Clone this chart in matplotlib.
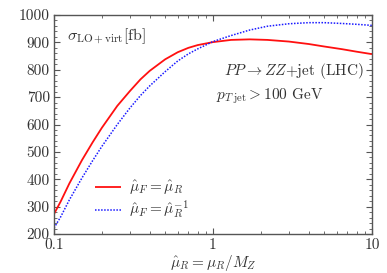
import matplotlib
matplotlib.use("Agg")
import matplotlib.pyplot as plt
from matplotlib.ticker import FixedLocator, MultipleLocator, LogLocator, NullFormatter

plt.rcParams['mathtext.fontset'] = 'cm'
plt.rcParams['font.family'] = 'serif'
plt.rcParams['font.serif'] = ['cmr10', 'DejaVu Serif']
plt.rcParams['axes.formatter.use_mathtext'] = True

# data
mu_R = [0.1, 0.11, 0.125, 0.15, 0.175, 0.2, 0.25, 0.3, 0.35, 0.4, 0.5, 0.6,
        0.7, 0.8, 1.0, 1.3, 1.7, 2.2, 3.0, 4.0, 5.0, 6.5, 8.0, 10.0]
sigma_equal = [273, 318, 385, 470, 535, 588, 668, 722, 765, 796, 838, 864,
               880, 890, 901, 909, 911, 909, 903, 894, 885, 875, 866, 857]
sigma_inverse = [222, 262, 325, 405, 468, 520, 600, 660, 706, 741, 793, 832,
                 858, 876, 903, 925, 945, 959, 968, 972, 972, 969, 966, 962]
yticks = [200, 300, 400, 500, 600, 700, 800, 900, 1000]
xticks = [0.1, 1, 10]
xticklabels = ['0.1', '1', '10']

text_col = '#333333'
frame_col = '#555555'

fig = plt.figure(figsize=(3.87, 2.73), dpi=100)
ax = fig.add_axes([54/387, 39/273, (372-54)/387, (234-15)/273])

ax.plot(mu_R, sigma_equal, color='#ff1010', lw=1.3, solid_capstyle='butt',
        label=r'$\hat{\mu}_F=\hat{\mu}_R$')
ax.plot(mu_R, sigma_inverse, color='#1a1aff', lw=1.1, ls=(0, (1, 1)),
        label=r'$\hat{\mu}_F=\hat{\mu}_R^{-1}$')

ax.set_xscale('log')
ax.set_xlim(0.1, 10)
ax.set_ylim(200, 1000)
ax.xaxis.set_major_locator(FixedLocator(xticks))
ax.set_xticklabels(xticklabels)
ax.xaxis.set_minor_locator(LogLocator(base=10, subs=range(2, 10)))
ax.xaxis.set_minor_formatter(NullFormatter())
ax.yaxis.set_major_locator(FixedLocator(yticks))
ax.set_yticklabels([str(v) for v in yticks])
ax.yaxis.set_minor_locator(MultipleLocator(20))

ax.tick_params(which='both', direction='in', top=True, right=True,
               color=frame_col, labelcolor=text_col, labelsize=11)
ax.tick_params(which='major', length=4, width=0.8, pad=3)
ax.tick_params(which='minor', length=2, width=0.6)
for s in ax.spines.values():
    s.set_color(frame_col)
    s.set_linewidth(1.0)

ax.set_xlabel(r'$\hat{\mu}_R=\mu_R/M_Z$', fontsize=11, color=text_col, labelpad=1)

ax.text(0.04, 0.95, r'$\sigma_{\mathrm{LO+virt}}[\mathrm{fb}]$', transform=ax.transAxes,
        fontsize=11.5, color=text_col, ha='left', va='top')
ax.text(0.975, 0.745, r'$PP\rightarrow ZZ$+jet (LHC)', transform=ax.transAxes,
        fontsize=11, color=text_col, ha='right', va='center')
ax.text(0.51, 0.63, r'$p_{T\;\mathrm{jet}}>100$ GeV', transform=ax.transAxes,
        fontsize=11, color=text_col, ha='left', va='center')

leg = ax.legend(loc='lower left', bbox_to_anchor=(0.11, 0.03), frameon=False,
                fontsize=11, handlelength=1.7, handletextpad=0.5, labelspacing=0.12,
                borderaxespad=0)
for t in leg.get_texts():
    t.set_color(text_col)

fig.savefig('out.png', dpi=100)
